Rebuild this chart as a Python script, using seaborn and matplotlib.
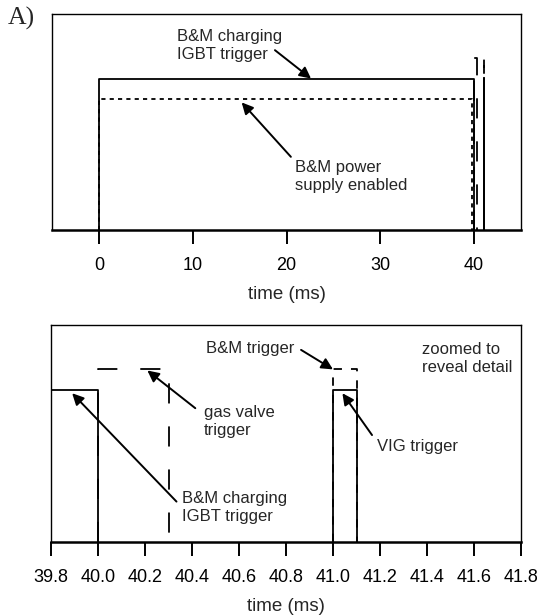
import matplotlib
matplotlib.use("Agg")
import matplotlib.pyplot as plt
import seaborn as sns
import pandas as pd

# ---------------- data ----------------
top_ticks = [0, 10, 20, 30, 40]
top_tick_labels = ["0", "10", "20", "30", "40"]
bottom_ticks = [39.8, 40.0, 40.2, 40.4, 40.6, 40.8, 41.0, 41.2, 41.4, 41.6, 41.8]
bottom_tick_labels = ["39.8", "40.0", "40.2", "40.4", "40.6", "40.8",
                      "41.0", "41.2", "41.4", "41.6", "41.8"]

# transition times (ms) and levels (arbitrary units), step-post waveforms
igbt_t = [0.0, 0.0, 40.0]
igbt_v = [0.0, 0.70, 0.0]
supply_t = [0.0, 0.0, 39.8]
supply_v = [0.0, 0.605, 0.0]
gas_t = [40.0, 40.0, 40.3]
gas_v = [0.0, 0.795, 0.0]
bm_t = [41.0, 41.0, 41.1]
bm_v = [0.0, 0.795, 0.0]
vig_t = [41.0, 41.0, 41.1]
vig_v = [0.0, 0.70, 0.0]

# ---------------- style ----------------
sns.set_style("white")
plt.rcParams["font.family"] = ["Liberation Sans", "DejaVu Sans"]
plt.rcParams["lines.scale_dashes"] = False

fig = plt.figure(figsize=(5.42, 6.15), dpi=100)
ax1 = fig.add_axes([0.0965, 0.6255, 0.8648, 0.3525])
ax2 = fig.add_axes([0.0941, 0.1192, 0.8672, 0.3524])

signals = [
    (igbt_t, igbt_v, "-"),
    (supply_t, supply_v, (0, (3.0, 3.0))),
    (gas_t, gas_v, (0, (14.5, 16.5))),
    (bm_t, bm_v, (0, (6.0, 6.5))),
    (vig_t, vig_v, "-"),
]

for ax in (ax1, ax2):
    for t, v, ls in signals:
        df = pd.DataFrame({"t": t, "v": v})
        sns.lineplot(data=df, x="t", y="v", ax=ax, color="black", lw=1.3,
                     linestyle=ls, drawstyle="steps-post", estimator=None,
                     sort=False)
    ax.set_ylim(0, 1)
    ax.set_yticks([])
    ax.set_ylabel("")
    ax.set_xlabel("time (ms)", fontsize=13.5, labelpad=8.5)
    for s in ("left", "right", "top"):
        ax.spines[s].set_linewidth(1.0)
        ax.spines[s].set_color("black")
    ax.spines["bottom"].set_linewidth(1.8)
    ax.spines["bottom"].set_color("black")
    ax.tick_params(axis="x", direction="out", length=10, width=1.4,
                   labelsize=13, pad=9.5, colors="black", bottom=True)

ax1.set_xlim(-5, 45)
ax1.set_xticks(top_ticks)
ax1.set_xticklabels(top_tick_labels)
ax2.set_xlim(39.8, 41.8)
ax2.set_xticks(bottom_ticks)
ax2.set_xticklabels(bottom_tick_labels)

tfs = 12
arrow = dict(arrowstyle="-|>", color="black", lw=1.4, mutation_scale=17,
             shrinkA=0, shrinkB=0)

# top panel annotations
ax1.text(0.265, 0.853, "B&M charging\nIGBT trigger", transform=ax1.transAxes,
         ha="left", va="center", fontsize=tfs, linespacing=1.25)
ax1.annotate("", xy=(22.6, 0.70), xycoords="data",
             xytext=(0.475, 0.831), textcoords="axes fraction", arrowprops=arrow)
ax1.text(0.518, 0.247, "B&M power\nsupply enabled", transform=ax1.transAxes,
         ha="left", va="center", fontsize=tfs, linespacing=1.25)
ax1.annotate("", xy=(15.2, 0.59), xycoords="data",
             xytext=(0.509, 0.339), textcoords="axes fraction", arrowprops=arrow)

# bottom panel annotations
ax2.text(0.33, 0.892, "B&M trigger", transform=ax2.transAxes,
         ha="left", va="center", fontsize=tfs)
ax2.annotate("", xy=(41.0, 0.795), xycoords="data",
             xytext=(0.532, 0.885), textcoords="axes fraction", arrowprops=arrow)
ax2.text(0.789, 0.846, "zoomed to\nreveal detail", transform=ax2.transAxes,
         ha="left", va="center", fontsize=tfs, linespacing=1.25)
ax2.text(0.3255, 0.556, "gas valve\ntrigger", transform=ax2.transAxes,
         ha="left", va="center", fontsize=tfs, linespacing=1.25)
ax2.annotate("", xy=(40.21, 0.79), xycoords="data",
             xytext=(0.307, 0.616), textcoords="axes fraction", arrowprops=arrow)
ax2.text(0.278, 0.156, "B&M charging\nIGBT trigger", transform=ax2.transAxes,
         ha="left", va="center", fontsize=tfs, linespacing=1.25)
ax2.annotate("", xy=(39.89, 0.685), xycoords="data",
             xytext=(0.267, 0.185), textcoords="axes fraction", arrowprops=arrow)
ax2.text(0.694, 0.438, "VIG trigger", transform=ax2.transAxes,
         ha="left", va="center", fontsize=tfs)
ax2.annotate("", xy=(41.04, 0.685), xycoords="data",
             xytext=(0.683, 0.492), textcoords="axes fraction", arrowprops=arrow)

fig.text(0.014, 1 - 18 / 615, "A)", ha="left", va="center", fontsize=18.5,
         family=["Liberation Serif", "DejaVu Serif"])

fig.savefig("out.png", dpi=100)
